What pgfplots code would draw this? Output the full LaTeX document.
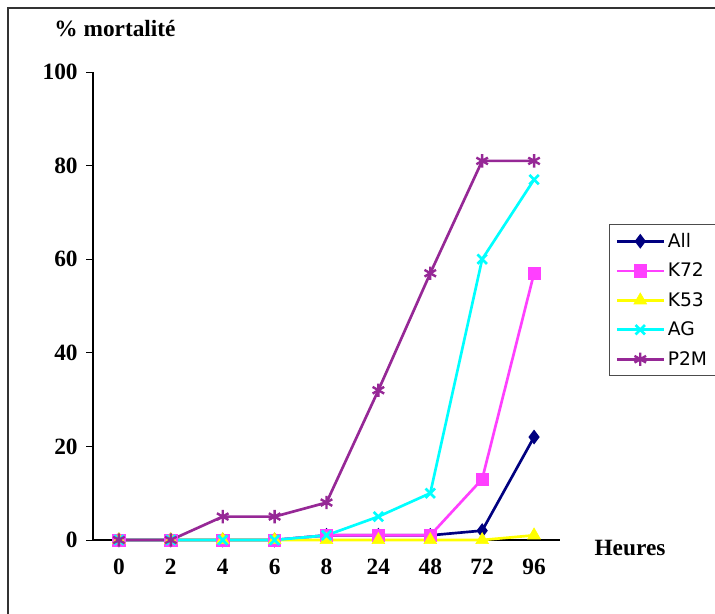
\documentclass[border=0pt]{standalone}
\usepackage{pgfplots}
\pgfplotsset{compat=1.18}
\usepackage{fontspec}
\setmainfont{Liberation Serif}
\newfontfamily\legfont{DejaVu Sans}
\usetikzlibrary{plotmarks}
\definecolor{cAll}{RGB}{0,0,128}
\definecolor{cK72}{RGB}{255,64,255}
\definecolor{cK53}{RGB}{255,255,0}
\definecolor{cAG}{RGB}{0,255,255}
\definecolor{cP2M}{RGB}{150,40,150}
\begin{document}
\begin{tikzpicture}
\useasboundingbox (0pt,0pt) rectangle (536.25pt,460.5pt);
\draw[line width=1.5pt,black!80] (6pt,0pt) -- (6pt,454.5pt) -- (536.25pt,454.5pt);
\node[font=\fontsize{17.5}{20}\selectfont\bfseries] at (86.25pt,438.75pt) {\% mortalité};
\node[font=\fontsize{17.5}{20}\selectfont\bfseries] at (472.5pt,49.5pt) {Heures};
\begin{axis}[
  at={(69.75pt,55.5pt)}, anchor=south west,
  scale only axis, width=350.25pt, height=351pt,
  xmin=-0.5, xmax=8.5, ymin=0, ymax=100,
  axis x line*=bottom, axis y line*=left,
  axis line style={black, line width=0.8pt},
  xtick={0,...,8},
  xticklabels={0,2,4,6,8,24,48,72,96},
  extra x ticks={-0.5,0.5,1.5,2.5,3.5,4.5,5.5,6.5,7.5,8.5},
  extra x tick labels={},
  extra x tick style={major tick length=5pt, tick style={black, line width=0.6pt}, tick align=outside},
  xtick style={draw=none},
  ytick={0,20,40,60,80,100},
  ytick style={black, line width=0.6pt},
  major tick length=5pt,
  tick align=outside,
  ticklabel style={font=\fontsize{17.5}{20}\selectfont\bfseries},
  /pgf/number format/assume math mode=true,
  xticklabel style={yshift=-6pt},
  yticklabel style={xshift=-3pt},
  clip=false,
  legend cell align=left,
  legend style={at={(1.105,0.675)}, anchor=north west, draw=black!70, line width=0.6pt,
    font=\legfont\fontsize{14}{16}\selectfont, row sep=6.2pt, inner sep=4.5pt},
  legend image code/.code={
    \draw[mark repeat=2,mark phase=2,#1] plot coordinates {(0cm,0cm) (0.62cm,0cm) (1.24cm,0cm)};
  },
]
\addplot[cAll, line width=2pt, mark=diamond*, mark size=4.8pt, mark options={solid, fill=cAll, line width=1pt}] coordinates {(0,0) (1,0) (2,0) (3,0) (4,1) (5,1) (6,1) (7,2) (8,22)};
\addlegendentry{All}
\addplot[cK72, line width=2pt, mark=square*, mark size=4.6pt, mark options={solid, fill=cK72, line width=0.5pt}] coordinates {(0,0) (1,0) (2,0) (3,0) (4,1) (5,1) (6,1) (7,13) (8,57)};
\addlegendentry{K72}
\addplot[cK53, line width=2pt, mark=triangle*, mark size=5.5pt, mark options={solid, fill=cK53, line width=0.5pt}] coordinates {(0,0) (1,0) (2,0) (3,0) (4,0) (5,0) (6,0) (7,0) (8,1)};
\addlegendentry{K53}
\addplot[cAG, line width=2pt, mark=x, mark size=5pt, mark options={solid, line width=2pt}] coordinates {(0,0) (1,0) (2,0) (3,0) (4,1) (5,5) (6,10) (7,60) (8,77)};
\addlegendentry{AG}
\addplot[cP2M, line width=2pt, mark=asterisk, mark size=5pt, mark options={solid, line width=1.8pt}] coordinates {(0,0) (1,0) (2,5) (3,5) (4,8) (5,32) (6,57) (7,81) (8,81)};
\addlegendentry{P2M}
\end{axis}
\end{tikzpicture}
\end{document}
